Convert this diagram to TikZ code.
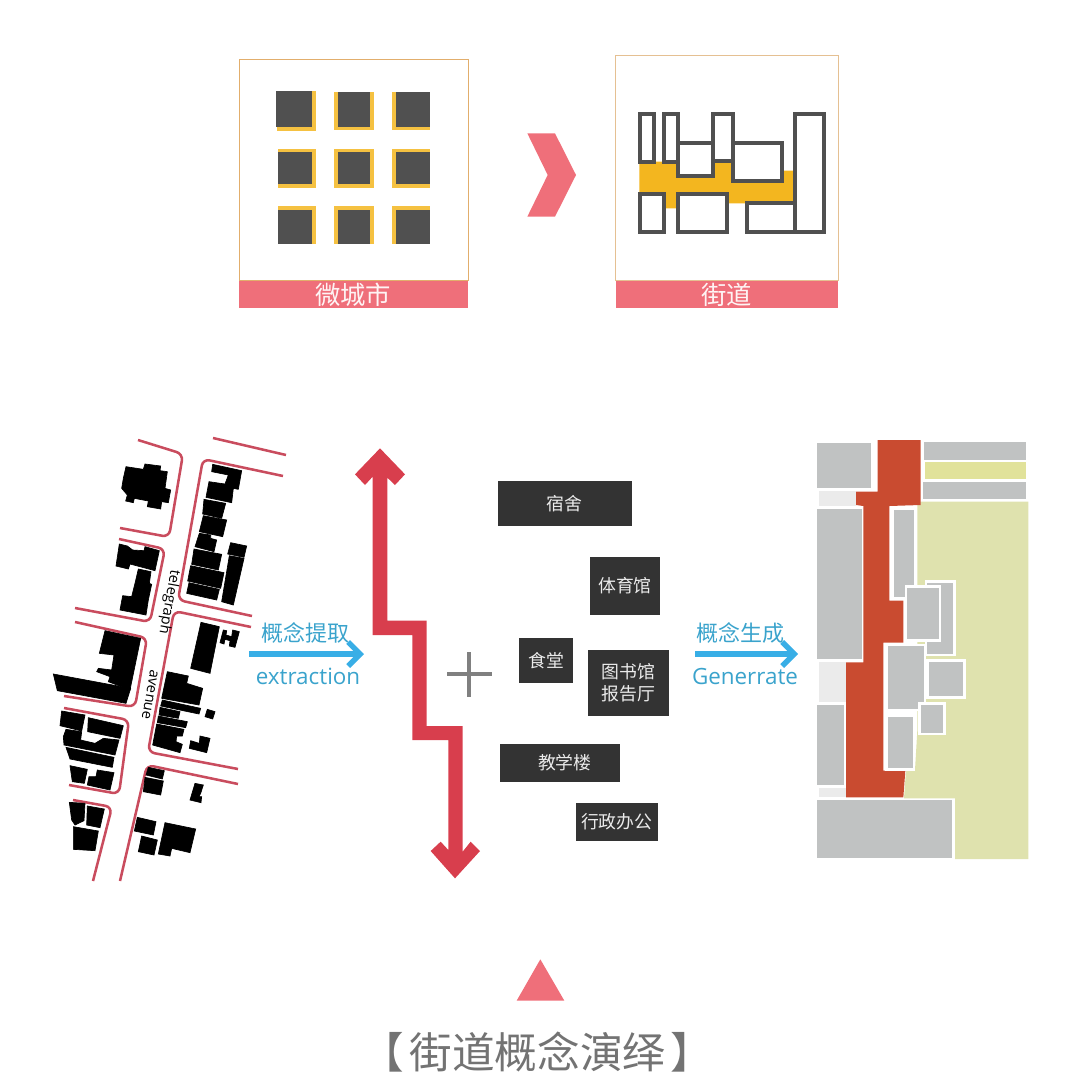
\documentclass[tikz,border=0pt]{standalone}
\usepackage{fontspec}
\setmainfont{Open Sans}
\newfontfamily\cjk{Noto Sans CJK SC}
\usepackage{xcolor}
\definecolor{cBand}{HTML}{EF6F7A}
\definecolor{cFrame}{HTML}{E2AE6C}
\definecolor{cGold}{HTML}{F3B61F}
\definecolor{cDark}{HTML}{505050}
\definecolor{cBox}{HTML}{333333}
\definecolor{cRoad}{HTML}{C94C5E}
\definecolor{cSnake}{HTML}{D83E4D}
\definecolor{cSky}{HTML}{38AEE6}
\definecolor{cSkyText}{HTML}{3AA3CC}
\definecolor{cPlot}{HTML}{C0C2C2}
\definecolor{cPale}{HTML}{EBEBEB}
\definecolor{cOlive}{HTML}{DFE2AE}
\definecolor{cOliveB}{HTML}{E1E29A}
\definecolor{cStreet}{HTML}{C94B30}
\usetikzlibrary{arrows.meta}
\tikzset{
  map-area/.style 2 args={shift={(#1,#2)},x=.25pt,y=-.25pt},
  icon-frame/.style={draw=cFrame,line width=.9pt},
  icon-band/.style={fill=cBand},
  band-label/.style={text=white!92!cBand,font=\fontsize{19}{22}\selectfont\cjk},
  node-box/.style={fill=cBox,inner sep=0pt,align=center,text=white!92!black,
    font=\fontsize{13.4}{16}\selectfont\cjk},
  road/.style={draw=cRoad,line width=1.9pt,rounded corners=5pt},
  block/.style={fill=black,draw=black,line width=.5pt},
  road-label/.style={font=\fontsize{11}{13}\selectfont,rotate=-100},
  plot/.style={fill=cPlot},
  plot-edge/.style={fill=cPlot,draw=white,line width=2pt},
  arrow-concept/.style={-{Straight Barb[length=9pt,width=18pt,line width=4pt]},line width=4pt,draw=cSky},
  concept-cn/.style={text=cSkyText,font=\fontsize{16.5}{20}\selectfont\cjk},
  concept-en/.style={text=cSkyText,font=\fontsize{16.8}{20}\selectfont},
}
\begin{document}
\begin{tikzpicture}[x=.75pt,y=-.75pt]
  \useasboundingbox (0,0) rectangle (1080,1092);
  % left icon
  \fill[icon-band] (239.3,280.7) rectangle (468.3,308.3);
  \draw[icon-frame] (239.3,59.3) rectangle (468.3,280.7);
  \node[band-label] (lb-micro) at (353,295) {微城市};
  \begin{scope}[map-area={230}{50}]
    \foreach \xa/\xb/\xc/\xd/\ya/\yb/\yc/\yd in {
      140/258/138/247/122/242/122/232,
      312/431/323/420/127/241/127/230,
      486/600/497/600/127/241/127/230,
      143/258/143/247/296/414/306/403,
      312/431/323/420/296/414/306/403,
      486/600/497/600/296/414/306/403,
      143/258/143/247/468/582/480/582,
      312/431/323/420/468/582/480/582,
      486/600/497/600/468/582/480/582}{
      \fill[cGold!85!white] (\xa,\ya) rectangle (\xb,\yb);
      \fill[cDark] (\xc,\yc) rectangle (\xd,\yd);
    }
  \end{scope}
  % chevron
  \begin{scope}[map-area={515}{120}]
    \fill[cBand] (37,40) -- (120,40) -- (183,165) -- (120,290) -- (37,290) -- (98,165) -- cycle;
  \end{scope}
  % right icon
  \fill[icon-band] (615.7,280.7) rectangle (838.3,308.3);
  \draw[icon-frame,draw=cFrame!70!cPale] (615.7,55.7) rectangle (838.3,280.7);
  \node[band-label] (lb-street) at (726.7,295) {街道};
  \begin{scope}[map-area={610}{50}]
    \fill[cGold] (88,335) -- (205,335) -- (205,375) -- (310,375) -- (310,335) -- (368,335)
      -- (368,395) -- (515,395) -- (515,362) -- (555,362) -- (555,460) -- (352,460)
      -- (352,430) -- (198,430) -- (198,475) -- (168,475) -- (168,430) -- (88,430) -- cycle;
    \foreach \xa/\ya/\xb/\yb in {89/193/132/335,163/193/205/335,308/193/370/333,205/278/308/378,
      370/278/517/392,555/193/642/545,89/432/163/545,203/432/350/545,410/460/555/545}{
      \draw[cDark,fill=white,line width=3pt] (\xa,\ya) rectangle (\xb,\yb);
    }
  \end{scope}
  % site map
  \draw[road] (138,440) -- (183,454) -- (169,537) -- (120,528);
  \draw[road] (213,438) -- (286,455);
  \draw[road] (283,476) -- (203,459) -- (178,600) -- (252,616);
  \draw[road] (119,539) -- (165,549) -- (150,622) -- (75,608);
  \draw[road] (251,627) -- (174,611) -- (148,752) -- (238,769);
  \draw[road] (75,622) -- (147,638) -- (135,707) -- (64,696);
  \draw[road] (64,708) -- (129,720) -- (119,794) -- (69,785);
  \draw[road] (73,800) -- (112,807) -- (93,881);
  \draw[road] (120,881) -- (147,765) -- (238,784);
  \begin{scope}[map-area={40}{420}]
    \filldraw[block] (258,140) -- (310,148) -- (315,132) -- (362,138) -- (360,152) -- (382,155) -- (375,205)
      -- (392,210) -- (385,248) -- (365,245) -- (362,267) -- (322,260) -- (325,243) -- (283,235)
      -- (280,248) -- (257,243) -- (262,225) -- (245,205) -- (250,175) -- cycle;
    \filldraw[block] (518,133) -- (605,152) -- (595,208) -- (580,205) -- (575,248) -- (498,232)
      -- (507,185) -- (555,192) -- (565,165) -- (515,155) -- cycle;
    \filldraw[block] (492,238) -- (557,250) -- (545,295) -- (488,282) -- cycle;
    \filldraw[block] (490,287) -- (560,300) -- (548,350) -- (478,335) -- cycle;
    \filldraw[block] (478,340) -- (512,345) -- (512,355) -- (530,360) -- (522,395) -- (465,380) -- cycle;
    \filldraw[block] (462,387) -- (545,403) -- (535,450) -- (455,433) -- cycle;
    \filldraw[block] (452,437) -- (552,458) -- (542,505) -- (443,483) -- cycle;
    \filldraw[block] (447,488) -- (538,508) -- (530,540) -- (440,520) -- cycle;
    \filldraw[block] (572,368) -- (620,378) -- (612,412) -- (563,402) -- cycle;
    \filldraw[block] (568,407) -- (612,415) -- (580,555) -- (545,545) -- cycle;
    \filldraw[block] (238,372) -- (262,378) -- (278,390) -- (312,392) -- (315,380) -- (358,392) -- (345,452)
      -- (270,432) -- (265,447) -- (228,438) -- cycle;
    \filldraw[block] (295,447) -- (333,455) -- (328,490) -- (335,493) -- (325,540) -- (318,585) -- (240,570)
      -- (248,527) -- (275,530) -- (285,490) -- cycle;
    \filldraw[block] (195,632) -- (302,655) -- (270,810) -- (205,785) -- (210,770) -- (170,755) -- (175,745)
      -- (215,750) -- (222,705) -- (178,700) -- cycle;
    \filldraw[block] (483,607) -- (538,620) -- (510,760) -- (452,745) -- cycle;
    \filldraw[block] (550,630) -- (560,632) -- (558,645) -- (575,650) -- (578,630) -- (598,635) -- (585,682)
      -- (568,678) -- (570,662) -- (555,658) -- (552,672) -- (540,668) -- cycle;
  \end{scope}
  \begin{scope}[map-area={40}{650}]
    \filldraw[block] (40,72) -- (272,115) -- (258,160) -- (52,122) -- cycle;
    \filldraw[block] (382,65) -- (445,78) -- (440,100) -- (488,115) -- (477,165) -- (365,145) -- cycle;
    \filldraw[block] (367,150) -- (482,175) -- (477,192) -- (362,168) -- cycle;
    \filldraw[block] (360,172) -- (420,185) -- (415,205) -- (357,195) -- cycle;
    \filldraw[block] (355,198) -- (442,215) -- (437,233) -- (352,218) -- cycle;
    \filldraw[block] (350,222) -- (432,238) -- (427,258) -- (410,258) -- (408,275) -- (427,283) -- (420,308) -- (338,285) -- cycle;
    \filldraw[block] (502,178) -- (525,185) -- (518,207) -- (495,200) -- cycle;
    \filldraw[block] (480,258) -- (510,265) -- (500,308) -- (448,295) -- (452,272) -- (478,280) -- cycle;
    \filldraw[block] (65,183) -- (135,195) -- (125,243) -- (60,227) -- cycle;
    \filldraw[block] (145,203) -- (250,227) -- (240,265) -- (143,245) -- cycle;
    \filldraw[block] (78,238) -- (125,245) -- (122,270) -- (165,280) -- (190,265) -- (237,270) -- (225,315) -- (72,285) -- (70,260) -- cycle;
    \filldraw[block] (78,292) -- (222,322) -- (217,352) -- (90,327) -- cycle;
    \filldraw[block] (90,347) -- (142,358) -- (133,400) -- (97,395) -- cycle;
    \filldraw[block] (172,360) -- (222,368) -- (210,420) -- (142,405) -- (147,380) -- (168,380) -- cycle;
    \filldraw[block] (88,457) -- (135,460) -- (132,512) -- (105,525) -- (95,510) -- cycle;
    \filldraw[block] (142,468) -- (193,477) -- (180,533) -- (140,525) -- cycle;
    \filldraw[block] (100,530) -- (175,543) -- (165,602) -- (100,598) -- cycle;
    \filldraw[block] (325,352) -- (373,362) -- (367,387) -- (318,375) -- cycle;
    \filldraw[block] (315,382) -- (370,393) -- (362,435) -- (310,425) -- cycle;
    \filldraw[block] (465,400) -- (490,405) -- (482,430) -- (477,440) -- (485,440) -- (483,458) -- (450,450) -- cycle;
    \filldraw[block] (292,502) -- (348,515) -- (340,555) -- (283,543) -- cycle;
    \filldraw[block] (305,558) -- (352,570) -- (342,615) -- (295,605) -- cycle;
    \filldraw[block] (375,518) -- (467,537) -- (450,608) -- (395,595) -- (390,618) -- (355,612) -- cycle;
  \end{scope}
  \node[road-label] (road-telegraph) at (169,602) {telegraph};
  \node[road-label] (road-avenue) at (150,695) {avenue};
  % concept arrows
  \coordinate (ex-start) at (249,654);
  \coordinate (ex-end) at (364,654);
  \coordinate (gen-start) at (695,654);
  \coordinate (gen-end) at (798,654);
  \draw[arrow-concept] (ex-start) -- (ex-end);
  \draw[arrow-concept] (gen-start) -- (gen-end);
  \node[concept-cn] (cn-extract) at (305.5,633) {概念提取};
  \node[concept-en] (en-extract) at (308,676) {extraction};
  \node[concept-cn] (cn-generate) at (740,633) {概念生成};
  \node[concept-en] (en-generate) at (745,676) {Generrate};
  % snake and plus
  \begin{scope}[map-area={340}{435}]
    \fill[cSnake] (120,40) -- (195,118) -- (165,150) -- (142,128) -- (142,557) -- (260,557) -- (260,873)
      -- (368,873) -- (368,1250) -- (392,1220) -- (420,1248) -- (345,1330) -- (272,1248) -- (302,1220)
      -- (325,1245) -- (325,915) -- (217,915) -- (217,600) -- (98,600) -- (98,125) -- (75,150) -- (45,118) -- cycle;
    \draw[black!50,line width=2.8pt] (322,718) -- (455,718);
    \draw[black!50,line width=2.8pt] (388,652) -- (388,787);
  \end{scope}
  % programme boxes
  \node[node-box,minimum width=100.3pt,minimum height=33.5pt] (b-dorm) at (564.8,503.3) {宿舍};
  \node[node-box,minimum width=52.5pt,minimum height=43.5pt] (b-gym) at (625,585.7) {体育馆};
  \node[node-box,minimum width=40.5pt,minimum height=33.5pt] (b-food) at (546.3,660.3) {食堂};
  \node[node-box,minimum width=61pt,minimum height=49.3pt] (b-lib) at (628.3,682.8) {图书馆\hspace{4pt}\\报告厅\hspace{4pt}};
  \node[node-box,minimum width=89.8pt,minimum height=28.5pt] (b-teach) at (560.2,762.7) {\hspace{7pt}教学楼};
  \node[node-box,minimum width=61.3pt,minimum height=28.7pt] (b-admin) at (616.8,821.8) {行政办公};
  % street plan
  \begin{scope}[map-area={800}{430}]
    \fill[cOlive] (352,215) -- (685,215) -- (685,1287) -- (465,1287) -- (465,1105) -- (312,1105)
      -- (318,1020) -- (345,1020) -- (352,900) -- cycle;
    \fill[cOliveB] (375,97) rectangle (678,148);
    \fill[cPale] (57,183) rectangle (168,227);
    \fill[cPale] (57,697) rectangle (138,817);
    \fill[cPale] (57,1075) rectangle (138,1102);
    \fill[cStreet] (233,30) -- (362,30) -- (362,225) -- (268,228) -- (268,512) -- (310,512) -- (310,638)
      -- (250,638) -- (250,1022) -- (316,1022) -- (310,1102) -- (138,1102) -- (138,697) -- (190,697)
      -- (190,228) -- (168,225) -- (168,185) -- (233,185) -- cycle;
    \fill[plot] (52,40) rectangle (213,175);
    \fill[plot] (372,35) rectangle (678,90);
    \fill[plot] (370,157) rectangle (678,207);
    \fill[plot] (50,237) rectangle (185,688);
    \fill[plot] (52,825) rectangle (132,1066);
    \fill[plot] (52,1110) rectangle (457,1283);
    \filldraw[plot-edge] (277,237) rectangle (347,505);
    \filldraw[plot-edge] (378,455) rectangle (463,675);
    \filldraw[plot-edge] (318,470) rectangle (420,632);
    \filldraw[plot-edge] (260,645) rectangle (375,840);
    \filldraw[plot-edge] (383,692) rectangle (494,803);
    \filldraw[plot-edge] (358,820) rectangle (433,912);
    \filldraw[plot-edge] (260,857) rectangle (342,1018);
  \end{scope}
  % caption
  \begin{scope}[map-area={360}{945}]
    \fill[cBand] (541,43) -- (613,167) -- (470,167) -- cycle;
  \end{scope}
  \node[text=black!55,font=\fontsize{32}{38}\selectfont\cjk] (caption) at (537.5,1052) {【\kern 4pt 街道概念演绎\kern 4pt 】};
\end{tikzpicture}
\end{document}
